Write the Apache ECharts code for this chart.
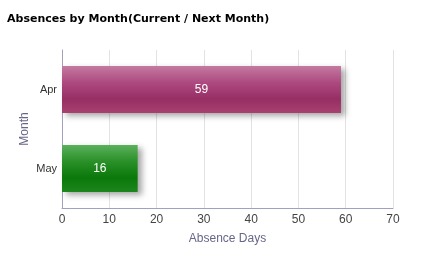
<!DOCTYPE html>
<html><head><meta charset="utf-8">
<script src="https://cdn.jsdelivr.net/npm/echarts@6/dist/echarts.min.js"></script>
<style>html,body{margin:0;padding:0;background:#fff}#c{width:439px;height:255px}</style>
</head><body><div id="c"></div>
<script>
const categories = ['Apr', 'May'];
const values = [59, 16];
const xTicks = [0, 10, 20, 30, 40, 50, 60, 70];

const grads = [
  new echarts.graphic.LinearGradient(0, 0, 0, 1, [
    {offset: 0, color: '#c47aa0'}, {offset: 0.35, color: '#ad4a80'},
    {offset: 0.7, color: '#972e64'}, {offset: 1, color: '#a8416f'}]),
  new echarts.graphic.LinearGradient(0, 0, 0, 1, [
    {offset: 0, color: '#5cb05c'}, {offset: 0.35, color: '#2a9028'},
    {offset: 0.7, color: '#0a780a'}, {offset: 1, color: '#1d861d'}])
];

const chart = echarts.init(document.getElementById('c'));
chart.setOption({
  animation: false,
  title: {text: 'Absences by Month(Current / Next Month)', left: 2, top: 9,
    textStyle: {fontFamily: 'DejaVu Sans', fontWeight: 'bold', fontSize: 11, color: '#000'}},
  grid: {left: 62, right: 46, top: 50, bottom: 47},
  xAxis: {type: 'value', min: 0, max: 70, interval: 10,
    name: 'Absence Days', nameLocation: 'middle', nameGap: 25,
    nameTextStyle: {color: '#66668a', fontSize: 12, fontFamily: 'Liberation Sans'},
    axisLine: {show: true, lineStyle: {color: '#a0a0c0'}},
    axisTick: {show: false},
    axisLabel: {color: '#444', fontSize: 12, fontFamily: 'Liberation Sans', margin: 6,
      formatter: v => xTicks.includes(v) ? String(v) : ''},
    splitLine: {show: true, lineStyle: {color: '#e2e2e2'}}},
  yAxis: {type: 'category', data: categories, inverse: true,
    name: 'Month', nameLocation: 'middle', nameGap: 31, nameRotate: 90, nameMoveOverlap: false,
    nameTextStyle: {color: '#66668a', fontSize: 12, fontFamily: 'Liberation Sans'},
    axisLine: {show: true, lineStyle: {color: '#a0a0c0'}},
    axisTick: {show: false},
    axisLabel: {color: '#333', fontSize: 11, fontFamily: 'Liberation Sans', margin: 5},
    splitLine: {show: false}},
  series: [{type: 'bar', barWidth: 47,
    data: values.map((v, i) => ({value: v, itemStyle: {color: grads[i],
      shadowColor: 'rgba(0,0,0,0.35)', shadowBlur: 6, shadowOffsetX: 4, shadowOffsetY: 3}})),
    label: {show: true, position: 'inside', color: '#fff', fontSize: 12, fontFamily: 'Liberation Sans'}}]
});
</script></body></html>
